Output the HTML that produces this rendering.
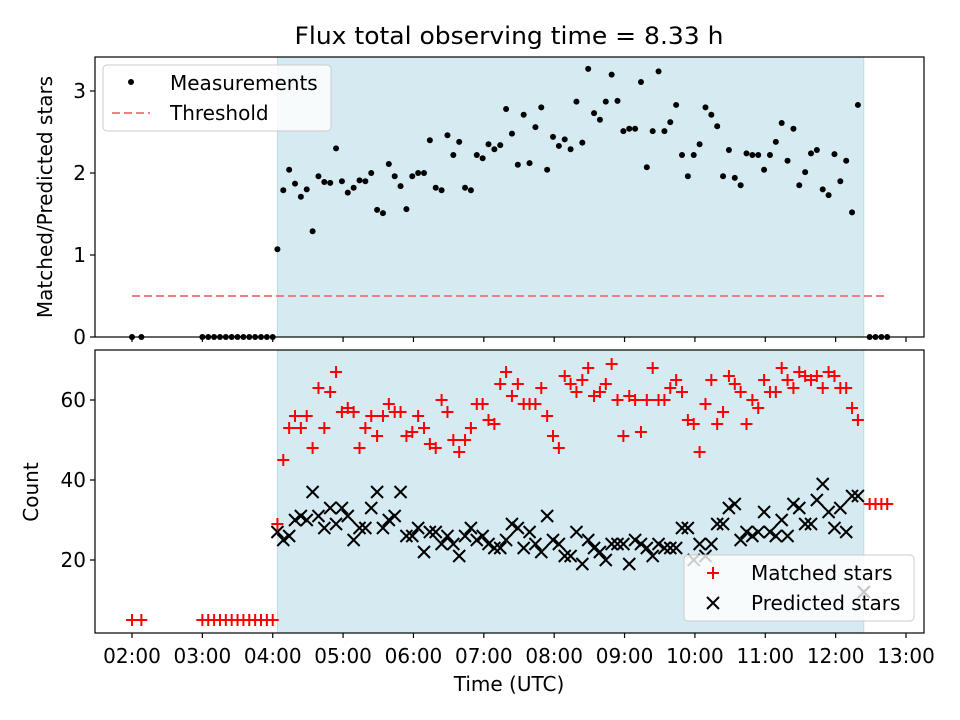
<!DOCTYPE html>
<html><head><meta charset="utf-8"><style>
body{margin:0;background:#fff}
svg{display:block;font-family:"DejaVu Sans","Liberation Sans",sans-serif}
</style></head><body>
<svg id="c" width="960" height="720" viewBox="0 0 960 720"></svg>
<script>
const times=[244,249,254,259,264,269,274,279,284,289,294,299,304,309,314,319,324,329,334,339,344,349,354,359,364,369,374,379,384,389,394,399,404,409,414,419,424,429,434,439,444,449,454,459,464,469,474,479,484,489,494,499,504,509,514,519,524,529,534,539,544,549,554,559,564,569,574,579,584,589,594,599,604,609,614,619,624,629,634,639,644,649,654,659,664,669,674,679,684,689,694,699,704,709,714,719,724,729,734,739,744];
const ratio=[1.07,1.79,2.04,1.87,1.71,1.80,1.29,1.96,1.89,1.88,2.30,1.90,1.76,1.82,1.91,1.90,2.00,1.55,1.51,2.11,1.96,1.84,1.56,1.96,2.00,2.00,2.40,1.82,1.79,2.46,2.22,2.38,1.82,1.79,2.22,2.18,2.35,2.29,2.34,2.78,2.48,2.10,2.71,2.12,2.56,2.80,2.04,2.44,2.33,2.41,2.29,2.87,2.37,3.27,2.73,2.65,2.87,3.20,2.88,2.51,2.54,2.54,3.11,2.07,2.51,3.24,2.51,2.62,2.83,2.22,1.96,2.22,2.35,2.80,2.71,2.57,1.96,2.28,1.94,1.85,2.24,2.22,2.22,2.04,2.22,2.38,2.61,2.15,2.54,1.85,2.01,2.24,2.28,1.80,1.73,2.23,1.90,2.15,1.52,2.83];
const matched=[29,45,53,56,53,56,48,63,53,62,67,57,58,57,48,53,56,51,56,59,57,57,51,52,56,53,49,48,60,57,50,47,50,53,59,59,55,54,64,67,61,64,59,59,59,63,56,51,48,66,64,62,65,68,61,62,64,69,60,51,61,60,52,60,68,60,60,63,65,62,55,54,47,59,65,54,57,66,64,62,54,60,58,65,62,62,68,65,63,67,66,65,66,63,67,66,63,63,58,55];
const predicted=[27,25,26,30,31,30,37,31,28,33,29,33,31,25,28,28,33,37,28,30,31,37,26,26,28,22,27,27,24,26,24,21,26,28,25,26,24,23,23,25,29,28,23,27,24,22,31,25,24,21,21,27,19,25,23,22,20,24,24,24,19,25,24,23,21,24,23,23,23,28,28,20,24,21,24,29,29,33,34,25,27,26,27,32,27,26,30,26,34,33,29,29,35,39,32,28,33,27,36,36,12];
const offTimesBefore=[120,128,180,185,190,195,200,205,210,215,220,225,230,235,240];
const offTimesAfter=[749,754,759,764];
const offMatchedAfter=[34,34,34,34];
const offPredictedAfter=[12,12,12,12];
const spanStart=244, spanEnd=744, threshold=0.5, thrStart=120, thrEnd=764;
const xTicks=[120,180,240,300,360,420,480,540,600,660,720,780];
const xTickLabels=["02:00","03:00","04:00","05:00","06:00","07:00","08:00","09:00","10:00","11:00","12:00","13:00"];
const topTicks=[0,1,2,3], botTicks=[20,40,60];

const NS="http://www.w3.org/2000/svg";
const svg=document.getElementById('c');
function el(t,a,p){const e=document.createElementNS(NS,t);for(const k in a)e.setAttribute(k,a[k]);(p||svg).appendChild(e);return e;}
const X=m=>132+(m-120)*(774/660);
const Yt=v=>337-v*82;
const Yb=v=>640-v*4;
const L=95,R=924,FS=20;

let t=el('text',{x:509,y:44,'text-anchor':'middle','font-size':24,textLength:429,lengthAdjust:'spacingAndGlyphs'});t.textContent='Flux total observing time = 8.33 h';


function panel(top,bot,name){
  const s=el('rect',{x:X(spanStart),y:top,width:X(spanEnd)-X(spanStart),height:bot-top,fill:'#d5eaf1',stroke:'#bcdbe5','stroke-width':1});
  
}
function frame(top,bot,Y,ticks,labels,name){
  const f=el('rect',{x:L,y:top,width:R-L,height:bot-top,fill:'none',stroke:'#000','stroke-width':1.2});
  
  xTicks.forEach((m,i)=>{el('line',{x1:X(m),x2:X(m),y1:bot,y2:bot+5,stroke:'#000','stroke-width':1.2});
    if(labels){const tx=el('text',{x:X(m),y:bot+30,'text-anchor':'middle','font-size':FS});tx.textContent=xTickLabels[i];
      }});
  ticks.forEach(v=>{el('line',{x1:L-5,x2:L,y1:Y(v),y2:Y(v),stroke:'#000','stroke-width':1.2});
    const tx=el('text',{x:L-9,y:Y(v)+7,'text-anchor':'end','font-size':FS});tx.textContent=v;
    });
}
function plus(x,y,g){el('path',{d:`M${x-6} ${y}H${x+6}M${x} ${y-6}V${y+6}`,stroke:'#f00','stroke-width':2,fill:'none'},g);}
function cross(x,y,g,c){el('path',{d:`M${x-6} ${y-6}L${x+6} ${y+6}M${x+6} ${y-6}L${x-6} ${y+6}`,stroke:c||'#000','stroke-width':2,fill:'none'},g);}

// TOP
panel(57,337,'top');
const thr=el('line',{x1:X(thrStart),x2:X(thrEnd),y1:Yt(threshold),y2:Yt(threshold),stroke:'#f08080','stroke-width':2,'stroke-dasharray':'8,4'});

const gm=el('g',{});
offTimesBefore.forEach(m=>el('circle',{cx:X(m),cy:Yt(0),r:3},gm));
times.forEach((m,i)=>{if(ratio[i]!=null)el('circle',{cx:X(m),cy:Yt(ratio[i]),r:3},gm);});
offTimesAfter.forEach(m=>el('circle',{cx:X(m),cy:Yt(0),r:3},gm));
frame(57,337,Yt,topTicks,false,'top');
let yl=el('text',{x:0,y:0,'font-size':FS,'text-anchor':'middle',transform:`translate(52,197) rotate(-90)`});yl.textContent='Matched/Predicted stars';

const lg=el('g',{});
el('rect',{x:103,y:65,width:228,height:66,rx:4,fill:'#fff','fill-opacity':0.8,stroke:'#ccc'},lg);
el('circle',{cx:131,cy:82,r:3},lg);
let lt=el('text',{x:170,y:90,'font-size':FS},lg);lt.textContent='Measurements';
el('line',{x1:112,x2:150,y1:113,y2:113,stroke:'#f08080','stroke-width':2,'stroke-dasharray':'8,4'},lg);
lt=el('text',{x:170,y:120,'font-size':FS},lg);lt.textContent='Threshold';

// BOTTOM
panel(350,633,'bottom');
const gp=el('g',{});
times.forEach((m,i)=>{if(predicted[i]!=null)cross(X(m),Yb(predicted[i]),gp);});
const gmt=el('g',{});
offTimesBefore.forEach(m=>plus(X(m),Yb(5),gmt));
times.forEach((m,i)=>{if(matched[i]!=null)plus(X(m),Yb(matched[i]),gmt);});
offTimesAfter.forEach((m,i)=>plus(X(m),Yb(offMatchedAfter[i]),gmt));
const lb=el('g',{});
el('rect',{x:684,y:555,width:230,height:66,rx:4,fill:'#fff','fill-opacity':0.8,stroke:'#ccc'},lb);
plus(713,573,lb);
lt=el('text',{x:751,y:580,'font-size':FS},lb);lt.textContent='Matched stars';
cross(713,603,lb);
lt=el('text',{x:751,y:610,'font-size':FS},lb);lt.textContent='Predicted stars';
cross(864,Yb(offPredictedAfter[0]),lb,'#c8c8c8');
frame(350,633,Yb,botTicks,true,'bottom');
yl=el('text',{x:0,y:0,'font-size':FS,'text-anchor':'middle',transform:`translate(38,492) rotate(-90)`});yl.textContent='Count';

let xl=el('text',{x:509,y:691,'font-size':FS,'text-anchor':'middle'});xl.textContent='Time (UTC)';

</script>
</body></html>
